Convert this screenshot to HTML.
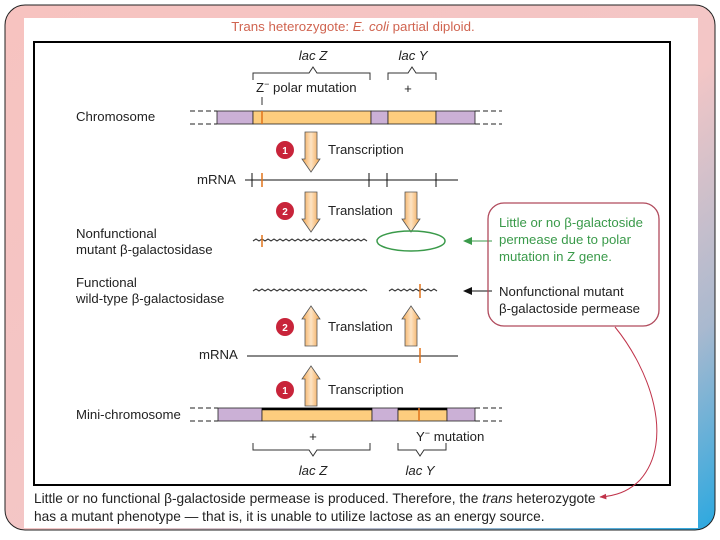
<!DOCTYPE html>
<html><head><meta charset="utf-8"><style>
html,body{margin:0;padding:0;width:720px;height:540px;background:#fff;overflow:hidden}
svg{display:block}
text{font-family:"Liberation Sans",sans-serif;}
</style></head><body>
<svg width="720" height="540" viewBox="0 0 720 540" xmlns="http://www.w3.org/2000/svg">
<defs>
<linearGradient id="fr" x1="0" y1="0" x2="1" y2="1">
<stop offset="0" stop-color="#f7c3c0"/><stop offset="0.55" stop-color="#f3c6c6"/><stop offset="0.8" stop-color="#a9b9cf"/><stop offset="1" stop-color="#2aa8e0"/>
</linearGradient>
<linearGradient id="ar" x1="0" y1="0" x2="1" y2="0">
<stop offset="0" stop-color="#f2a64e"/><stop offset="0.5" stop-color="#fde3c4"/><stop offset="1" stop-color="#f2a64e"/>
</linearGradient>
<g id="down"><path d="M-6,0 H6 V27 H9 L0,40 L-9,27 H-6 Z" fill="url(#ar)" stroke="#555" stroke-width="0.8"/></g>
<g id="up"><path d="M-6,40 H6 V13 H9 L0,0 L-9,13 H-6 Z" fill="url(#ar)" stroke="#555" stroke-width="0.8"/></g>
<marker id="mr" viewBox="0 0 10 10" refX="9" refY="5" markerWidth="7" markerHeight="7" orient="auto"><path d="M0,1 L10,5 L0,9 Z" fill="#c0334a"/></marker>
</defs>
<rect x="5" y="5" width="710" height="525" rx="20" fill="url(#fr)" stroke="#222" stroke-width="1"/>
<rect x="24" y="18" width="674" height="510" fill="#fff"/>
<text x="353" y="31" text-anchor="middle" font-size="13.3" fill="#d06450">Trans heterozygote: <tspan font-style="italic">E. coli</tspan> partial diploid.</text>
<rect x="34" y="42" width="636" height="443" fill="none" stroke="#000" stroke-width="2"/>

<g font-size="13.2" fill="#222">
<text x="313" y="60" text-anchor="middle" font-style="italic">lac Z</text>
<text x="413" y="60" text-anchor="middle" font-style="italic">lac Y</text>
<path d="M253,80 V73 H309 L313,67 L317,73 H370 V80" fill="none" stroke="#333"/>
<path d="M388,80 V73 H408 L412,67 L416,73 H436 V80" fill="none" stroke="#333"/>
<text x="256" y="92">Z<tspan dy="-5" font-size="9">−</tspan><tspan dy="5"> polar mutation</tspan></text>
<text x="408" y="93" text-anchor="middle">+</text>
<line x1="262" y1="97" x2="262" y2="105" stroke="#333"/>
<text x="76" y="121">Chromosome</text>
<g stroke="#222" stroke-dasharray="5,3"><line x1="190" y1="111" x2="217" y2="111"/><line x1="190" y1="124" x2="217" y2="124"/><line x1="475" y1="111" x2="502" y2="111"/><line x1="475" y1="124" x2="502" y2="124"/></g>
<g stroke="#222" stroke-width="0.8">
<rect x="217" y="111" width="36" height="13" fill="#cbb0d6"/>
<rect x="253" y="111" width="118" height="13" fill="#fdcd7e"/>
<rect x="371" y="111" width="17" height="13" fill="#cbb0d6"/>
<rect x="388" y="111" width="48" height="13" fill="#fdcd7e"/>
<rect x="436" y="111" width="39" height="13" fill="#cbb0d6"/>
</g>
<line x1="262" y1="111" x2="262" y2="124" stroke="#e0731a" stroke-width="1.5"/>

<use href="#down" x="311" y="132"/>
<circle cx="285" cy="150" r="9" fill="#c8243a"/><text x="285" y="154" text-anchor="middle" font-size="10" fill="#fff" font-weight="bold">1</text>
<text x="328" y="154">Transcription</text>
<text x="197" y="184">mRNA</text>
<line x1="245" y1="180" x2="458" y2="180" stroke="#111"/>
<g stroke="#111"><line x1="252" y1="173" x2="252" y2="187"/><line x1="369" y1="173" x2="369" y2="187"/><line x1="387" y1="173" x2="387" y2="187"/><line x1="436" y1="173" x2="436" y2="187"/></g>
<line x1="262" y1="173" x2="262" y2="187" stroke="#e0731a" stroke-width="1.5"/>

<use href="#down" x="311" y="192"/>
<use href="#down" x="411" y="192"/>
<circle cx="285" cy="211" r="9" fill="#c8243a"/><text x="285" y="215" text-anchor="middle" font-size="10" fill="#fff" font-weight="bold">2</text>
<text x="328" y="215">Translation</text>

<text x="76" y="238">Nonfunctional</text>
<text x="76" y="254">mutant β-galactosidase</text>
<path d="M253,241 l3,-2 l3,2 l3,-2 l3,2 l3,-2 l3,2 l3,-2 l3,2 l3,-2 l3,2 l3,-2 l3,2 l3,-2 l3,2 l3,-2 l3,2 l3,-2 l3,2 l3,-2 l3,2 l3,-2 l3,2 l3,-2 l3,2 l3,-2 l3,2 l3,-2 l3,2 l3,-2 l3,2 l3,-2 l3,2 l3,-2 l3,2 l3,-2 l3,2 l3,-2 l3,2" fill="none" stroke="#333" stroke-width="1.1"/>
<line x1="262" y1="235" x2="262" y2="247" stroke="#e0731a" stroke-width="1.5"/>
<ellipse cx="411" cy="241" rx="34" ry="10" fill="none" stroke="#3a9a4a" stroke-width="1.5"/>
<line x1="470" y1="241" x2="492" y2="241" stroke="#3a9a4a"/><path d="M463,241 L472,237 L472,245 Z" fill="#3a9a4a"/>

<text x="76" y="287">Functional</text>
<text x="76" y="303">wild-type β-galactosidase</text>
<path d="M253,291 l3,-2 l3,2 l3,-2 l3,2 l3,-2 l3,2 l3,-2 l3,2 l3,-2 l3,2 l3,-2 l3,2 l3,-2 l3,2 l3,-2 l3,2 l3,-2 l3,2 l3,-2 l3,2 l3,-2 l3,2 l3,-2 l3,2 l3,-2 l3,2 l3,-2 l3,2 l3,-2 l3,2 l3,-2 l3,2 l3,-2 l3,2 l3,-2 l3,2 l3,-2 l3,2" fill="none" stroke="#333" stroke-width="1.1"/>
<path d="M389,291 l3,-2 l3,2 l3,-2 l3,2 l3,-2 l3,2 l3,-2 l3,2 l3,-2 l3,2 l3,-2 l3,2 l3,-2 l3,2 l3,-2 l3,2" fill="none" stroke="#333" stroke-width="1.1"/>
<line x1="420" y1="284" x2="420" y2="298" stroke="#e0731a" stroke-width="1.5"/>
<line x1="470" y1="291" x2="492" y2="291" stroke="#111"/><path d="M463,291 L472,287 L472,295 Z" fill="#111"/>

<rect x="488" y="203" width="171" height="123" rx="16" fill="none" stroke="#b04a5c" stroke-width="1.3"/>
<g fill="#3a9a4a"><text x="499" y="227">Little or no β-galactoside</text><text x="499" y="244">permease due to polar</text><text x="499" y="261">mutation in Z gene.</text></g>
<text x="499" y="296">Nonfunctional mutant</text>
<text x="499" y="313">β-galactoside permease</text>
<path d="M615,327 C650,370 675,440 640,480 C628,492 615,496 600,497" fill="none" stroke="#c0334a" stroke-width="1" marker-end="url(#mr)"/>

<use href="#up" x="311" y="306"/>
<use href="#up" x="411" y="306"/>
<circle cx="285" cy="327" r="9" fill="#c8243a"/><text x="285" y="331" text-anchor="middle" font-size="10" fill="#fff" font-weight="bold">2</text>
<text x="328" y="331">Translation</text>
<text x="199" y="359">mRNA</text>
<line x1="247" y1="356" x2="458" y2="356" stroke="#111"/>
<line x1="420" y1="348" x2="420" y2="363" stroke="#e0731a" stroke-width="1.5"/>

<use href="#up" x="311" y="366"/>
<circle cx="285" cy="390" r="9" fill="#c8243a"/><text x="285" y="394" text-anchor="middle" font-size="10" fill="#fff" font-weight="bold">1</text>
<text x="328" y="394">Transcription</text>

<text x="76" y="419">Mini-chromosome</text>
<g stroke="#222" stroke-dasharray="5,3"><line x1="190" y1="408" x2="218" y2="408"/><line x1="190" y1="421" x2="218" y2="421"/><line x1="475" y1="408" x2="502" y2="408"/><line x1="475" y1="421" x2="502" y2="421"/></g>
<g stroke="#222" stroke-width="0.8">
<rect x="218" y="408" width="44" height="13" fill="#cbb0d6"/>
<rect x="262" y="408" width="110" height="13" fill="#fdcd7e"/>
<rect x="372" y="408" width="26" height="13" fill="#cbb0d6"/>
<rect x="398" y="408" width="49" height="13" fill="#fdcd7e"/>
<rect x="447" y="408" width="28" height="13" fill="#cbb0d6"/>
</g>
<line x1="262" y1="409" x2="372" y2="409" stroke="#000" stroke-width="2.5"/>
<line x1="398" y1="409" x2="447" y2="409" stroke="#000" stroke-width="2.5"/>
<line x1="419" y1="408" x2="419" y2="421" stroke="#e0731a" stroke-width="1.5"/>
<text x="313" y="441" text-anchor="middle">+</text>
<text x="416" y="441">Y<tspan dy="-5" font-size="9">−</tspan><tspan dy="5"> mutation</tspan></text>
<path d="M253,443 V450 H309 L313,456 L317,450 H370 V443" fill="none" stroke="#333"/>
<path d="M398,443 V450 H416 L420,456 L424,450 H446 V443" fill="none" stroke="#333"/>
<text x="313" y="475" text-anchor="middle" font-style="italic">lac Z</text>
<text x="420" y="475" text-anchor="middle" font-style="italic">lac Y</text>
</g>
<g font-size="13.7" fill="#222">
<text x="34" y="503">Little or no functional β-galactoside permease is produced. Therefore, the <tspan font-style="italic">trans</tspan> heterozygote</text>
<text x="34" y="521">has a mutant phenotype — that is, it is unable to utilize lactose as an energy source.</text>
</g>
</svg>
</body></html>
